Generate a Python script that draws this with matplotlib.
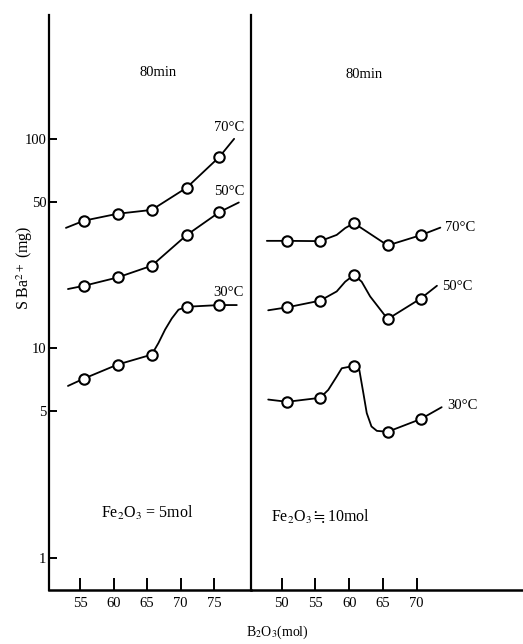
import matplotlib
matplotlib.use('Agg')
import matplotlib.pyplot as plt
from matplotlib.ticker import FixedLocator, FixedFormatter, NullLocator

plt.rcParams['font.family'] = ['Liberation Serif', 'DejaVu Serif', 'DejaVu Sans', 'Noto Sans CJK JP']
plt.rcParams['mathtext.fontset'] = 'stix'

# Fe2O3 = 5 mol panel (marker positions)
left_x = [55.6, 60.6, 65.7, 70.9, 75.8]
left_70 = [40.7, 43.9, 45.8, 58.4, 82.0]
left_50 = [19.9, 21.8, 24.8, 34.7, 44.7]
left_30 = [7.18, 8.37, 9.34, 15.8, 16.1]

# hand drawn curves
left_70_cx = [52.9, 55.6, 60.6, 65.7, 70.9, 75.8, 78.0]
left_70_cy = [37.6, 40.7, 43.9, 45.8, 58.4, 82.0, 100.0]
left_50_cx = [53.2, 55.6, 60.6, 65.7, 70.9, 75.8, 78.7]
left_50_cy = [19.2, 19.9, 21.8, 24.8, 34.7, 44.7, 49.7]
left_30_cx = [53.2, 55.6, 60.6, 65.7, 66.7, 67.7, 68.7, 69.7, 70.9, 75.8, 78.4]
left_30_cy = [6.62, 7.18, 8.37, 9.34, 10.6, 12.3, 13.9, 15.3, 15.8, 16.1, 16.1]

# Fe2O3 = 10 mol panel
right_x = [50.8, 55.7, 60.7, 65.7, 70.6]
right_70 = [32.6, 32.5, 39.6, 31.0, 34.7]
right_50 = [15.7, 16.9, 22.4, 13.8, 17.3]
right_30 = [5.56, 5.81, 8.25, 4.0, 4.6]

right_70_cx = [47.8, 50.8, 55.7, 58.15, 59.4, 60.7, 65.7, 70.6, 73.5]
right_70_cy = [32.6, 32.6, 32.5, 34.8, 37.5, 39.6, 31.0, 34.7, 37.7]
right_50_cx = [48.0, 50.8, 55.7, 58.15, 59.4, 60.7, 61.85, 63.1, 65.7, 70.6, 73.0]
right_50_cy = [15.2, 15.7, 16.9, 18.7, 20.8, 22.4, 20.8, 17.7, 13.8, 17.3, 19.9]
right_30_cx = [48.0, 50.8, 55.7, 56.9, 58.15, 58.9, 60.7, 61.5, 62.1, 62.6, 63.3, 64.1, 65.7, 70.6, 73.7]
right_30_cy = [5.7, 5.56, 5.81, 6.34, 7.34, 8.04, 8.25, 7.89, 6.11, 4.91, 4.24, 4.04, 4.0, 4.6, 5.24]

left_ticks = [55, 60, 65, 70, 75]
right_ticks = [50, 55, 60, 65, 70]
y_ticks = [1, 5, 10, 50, 100]
y_labels = ['1', '5', '10', '50', '100']

W, H = 523, 644
fig = plt.figure(figsize=(W / 100, H / 100), dpi=100)
ax1 = fig.add_axes([49 / W, 1 - 590 / H, 202 / W, 575 / H])
ax2 = fig.add_axes([251 / W, 1 - 590 / H, 272 / W, 575 / H], sharey=ax1)

line_kw = dict(color='black', lw=1.3, solid_joinstyle='round', solid_capstyle='round', zorder=2)
mark_kw = dict(ls='none', marker='o', ms=7.5, mfc='white', mec='black', mew=1.5, zorder=3)

for cx, cy in [(left_70_cx, left_70_cy), (left_50_cx, left_50_cy), (left_30_cx, left_30_cy)]:
    ax1.plot(cx, cy, **line_kw)
for ys in [left_70, left_50, left_30]:
    ax1.plot(left_x, ys, **mark_kw)

for cx, cy in [(right_70_cx, right_70_cy), (right_50_cx, right_50_cy), (right_30_cx, right_30_cy)]:
    ax2.plot(cx, cy, **line_kw)
for ys in [right_70, right_50, right_30]:
    ax2.plot(right_x, ys, **mark_kw)

ax1.set_yscale('log')
ax1.set_ylim(0.703, 390)
ax1.set_xlim(50.37, 80.52)
ax2.set_xlim(45.45, 85.75)

ax1.yaxis.set_major_locator(FixedLocator(y_ticks))
ax1.yaxis.set_major_formatter(FixedFormatter(y_labels))
ax1.yaxis.set_minor_locator(NullLocator())
ax1.set_xticks(left_ticks)
ax2.set_xticks(right_ticks)

for ax in (ax1, ax2):
    ax.spines['top'].set_visible(False)
    ax.spines['right'].set_visible(False)
    ax.spines['left'].set_linewidth(1.6)
    ax.spines['bottom'].set_linewidth(1.8)
    ax.tick_params(axis='x', direction='in', length=8.5, width=1.4, pad=5, labelsize=10.5)
    ax.patch.set_alpha(0)

ax1.tick_params(axis='y', direction='in', length=6, width=1.4, pad=2, labelsize=10.5)
ax2.tick_params(axis='y', which='both', left=False, labelleft=False)

ax1.text(66.6, 207, '80min', ha='center', va='center', fontsize=10.5)
ax2.text(62.2, 202, '80min', ha='center', va='center', fontsize=10.5)

ax1.text(77.2, 113, '70°C', ha='center', va='center', fontsize=10.5)
ax1.text(77.2, 55.8, '50°C', ha='center', va='center', fontsize=10.5)
ax1.text(77.2, 18.4, '30°C', ha='center', va='center', fontsize=10.5)
ax2.text(74.2, 37.6, '70°C', ha='left', va='center', fontsize=10.5)
ax2.text(73.7, 19.7, '50°C', ha='left', va='center', fontsize=10.5)
ax2.text(74.5, 5.32, '30°C', ha='left', va='center', fontsize=10.5)

ax1.text(65.0, 1.64, 'Fe$_2$O$_3$ = 5mol', ha='center', va='center', fontsize=11.5)
ax2.text(55.7, 1.57, r'Fe$_2$O$_3$$\fallingdotseq$10mol', ha='center', va='center', fontsize=11.5)

fig.text(25 / W, 1 - 268 / H, 'S Ba$^{2+}$ (mg)', rotation=90, ha='center', va='center', fontsize=11.5)
fig.text(277 / W, 1 - 632 / H, 'B$_2$O$_3$(mol)', ha='center', va='center', fontsize=10)

fig.savefig('out.png', dpi=100)
